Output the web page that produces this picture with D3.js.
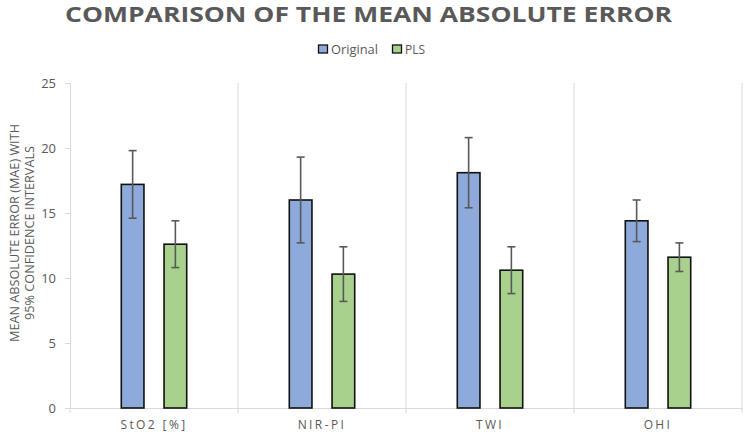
<!DOCTYPE html>
<html><head><meta charset="utf-8">
<script src="https://cdn.jsdelivr.net/npm/d3@7"></script>
<style>body{margin:0;background:#fff}svg{display:block}</style>
</head><body><svg id="c" width="745" height="434"></svg>
<script>
const categories = ["StO2 [%]", "NIR-PI", "TWI", "OHI"];
const seriesNames = ["Original", "PLS"];
const originalMean = [17.2, 16.0, 18.1, 14.4];
const originalLow = [14.6, 12.7, 15.4, 12.8];
const originalHigh = [19.8, 19.3, 20.8, 16.0];
const plsMean = [12.6, 10.3, 10.6, 11.6];
const plsLow = [10.8, 8.2, 8.8, 10.5];
const plsHigh = [14.4, 12.4, 12.4, 12.7];
const yTicks = [0, 5, 10, 15, 20, 25];
const colors = ["#8eaadb", "#a9d18e"];

const svg = d3.select("#c");
const m = {l: 70, r: 742, t: 83, b: 408};
const y = d3.scaleLinear().domain([0, 25]).range([m.b, m.t]);
const x0 = d3.scaleBand().domain(categories).range([m.l, m.r]);
const x1 = d3.scaleBand().domain(seriesNames).range([0, x0.bandwidth()]).paddingInner(0.47).paddingOuter(1.2);

const data = categories.map((c, i) => ({
  cat: c,
  vals: [
    {s: "Original", v: originalMean[i], lo: originalLow[i], hi: originalHigh[i]},
    {s: "PLS", v: plsMean[i], lo: plsLow[i], hi: plsHigh[i]}
  ]
}));

const grey = "#d9d9d9", txt = "#595959";
const font = "'Open Sans', sans-serif";
// vertical category separators
const seps = categories.map((c) => x0(c) + x0.bandwidth());
svg.selectAll("line.sep").data(seps).join("line")
  .attr("x1", d => d).attr("x2", d => d).attr("y1", m.t).attr("y2", m.b + 5)
  .attr("stroke", grey).attr("stroke-width", 1);
// y axis
const yAxis = d3.axisLeft(y).tickValues(yTicks).tickSize(5).tickPadding(9);
const ga = svg.append("g").attr("transform", `translate(${m.l},0)`).call(yAxis);
ga.select(".domain").attr("stroke", grey);
ga.selectAll(".tick line").attr("stroke", grey);
ga.selectAll(".tick text").attr("fill", txt).style("font-family", font).style("font-size", "13px");
// x axis baseline
const gx = svg.append("g").attr("transform", `translate(0,${m.b})`).call(d3.axisBottom(x0).tickSize(0).tickPadding(12));
gx.select(".domain").attr("stroke", grey);
gx.selectAll(".tick text").attr("fill", txt).style("font-family", font).style("font-size", "12px").style("letter-spacing", "2.4px");
svg.append("line").attr("x1", m.l).attr("x2", m.l).attr("y1", m.b).attr("y2", m.b + 5).attr("stroke", grey);

// bars
const g = svg.selectAll("g.cat").data(data).join("g").attr("class", "cat")
  .attr("transform", d => `translate(${x0(d.cat)},0)`);
g.selectAll("rect").data(d => d.vals).join("rect")
  .attr("x", d => x1(d.s)).attr("width", x1.bandwidth())
  .attr("y", d => y(d.v)).attr("height", d => y(0) - y(d.v))
  .attr("fill", (d, i) => colors[i]).attr("stroke", "#111").attr("stroke-width", 1.6);
// error bars
const eb = g.selectAll("g.eb").data(d => d.vals).join("g").attr("class", "eb")
  .attr("transform", d => `translate(${x1(d.s) + x1.bandwidth() / 2},0)`);
eb.append("line").attr("y1", d => y(d.lo)).attr("y2", d => y(d.hi)).attr("stroke", "#595959").attr("stroke-width", 1.6);
eb.append("line").attr("x1", -4).attr("x2", 4).attr("y1", d => y(d.lo)).attr("y2", d => y(d.lo)).attr("stroke", "#595959").attr("stroke-width", 1.6);
eb.append("line").attr("x1", -4).attr("x2", 4).attr("y1", d => y(d.hi)).attr("y2", d => y(d.hi)).attr("stroke", "#595959").attr("stroke-width", 1.6);

// title
svg.append("text").attr("x", 65).attr("y", 22)
  .attr("textLength", 607).attr("lengthAdjust", "spacingAndGlyphs")
  .attr("fill", txt).style("font-family", font).style("font-weight", "bold")
  .style("font-size", "21px")
  .text("COMPARISON OF THE MEAN ABSOLUTE ERROR");

// legend
const lg = svg.append("g").attr("transform", "translate(318,49)");
const items = [{n: seriesNames[0], x: 0, w: 47}, {n: seriesNames[1], x: 74, w: 20}];
items.forEach((it, i) => {
  lg.append("rect").attr("x", it.x + 0.5).attr("y", -4).attr("width", 9).attr("height", 8)
    .attr("fill", colors[i]).attr("stroke", "#111").attr("stroke-width", 1.3);
  lg.append("text").attr("x", it.x + 13).attr("y", 5).attr("fill", txt)
    .attr("textLength", it.w).attr("lengthAdjust", "spacingAndGlyphs")
    .style("font-family", font).style("font-size", "13px").text(it.n);
});

// y axis title
const yt = svg.append("text").attr("transform", `translate(0,233) rotate(-90)`)
  .attr("text-anchor", "middle").attr("fill", txt)
  .style("font-family", font).style("font-size", "12px");
yt.append("tspan").attr("x", 0).attr("y", 19).attr("textLength", 218).attr("lengthAdjust", "spacingAndGlyphs").text("MEAN ABSOLUTE ERROR (MAE) WITH");
yt.append("tspan").attr("x", 0).attr("y", 34).attr("textLength", 174).attr("lengthAdjust", "spacingAndGlyphs").text("95% CONFIDENCE INTERVALS");
</script></body></html>
